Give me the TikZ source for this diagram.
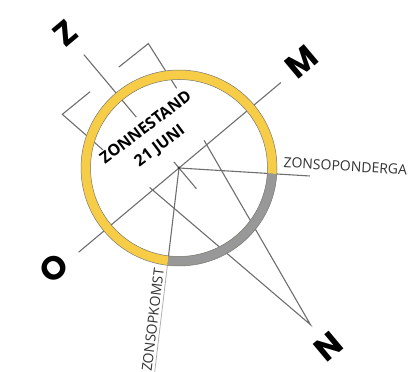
\documentclass[tikz,border=0pt]{standalone}
\usepackage{fontspec}
\setmainfont{Open Sans}
\newfontfamily\compassfont{Poppins}
\usetikzlibrary{calc}
\definecolor{ringyellow}{RGB}{247,205,72}
\definecolor{ringgray}{RGB}{152,152,152}
\definecolor{linegray}{RGB}{110,110,110}
\definecolor{edgegray}{RGB}{120,120,110}
\begin{document}
\begin{tikzpicture}[x=1pt,y=1pt,
  guide/.style={draw=linegray, line width=1.1pt},
  faint/.style={draw=linegray!55, line width=0.8pt},
  ringpart/.style={draw=edgegray, line width=0.5pt},
  compass/.style={font=\compassfont\bfseries\fontsize{33}{33}\selectfont, rotate=40, inner sep=0pt},
  label/.style={font=\fontsize{14}{16}\selectfont, text=black!80, inner sep=0pt},
  title/.style={font=\bfseries\fontsize{16}{23}\selectfont, align=center, rotate=37, inner sep=0pt}]
\useasboundingbox (0,0) rectangle (408,372);
\clip (0,0) rectangle (408,372);
\coordinate (C) at (179,204);
% lines
\begin{scope}[shift={(C)}, rotate=40]
  \coordinate (oend) at (-131,0);
  \coordinate (mend) at (133,0);
  \coordinate (zstart) at (0,148);
  \coordinate (zstop) at (0,66.5);
  \coordinate (tickA) at (0,8);
  \coordinate (tickB) at (0,-27);
  \coordinate (tb1) at (18.8,116);
  \coordinate (tb2) at (56.5,115);
  \coordinate (tb3) at (49.4,62.5);
  \coordinate (lb1) at (-19.1,115.6);
  \coordinate (lb2) at (-54.9,116.1);
  \coordinate (lb3) at (-46.6,62.7);
  \coordinate (na) at (37,5);
  \coordinate (nb) at (-35,4);
  \coordinate (npt) at (0,-204.5);
  \node[compass] (Zl) at (0,176) {Z};
  \node[compass] (Ml) at (162,2) {M};
  \node[compass] (Ol) at (-160,3.5) {O};
  \node[compass] (Nl) at (0,-233) {N};
  \node[title] (ttl) at (0,40) {ZONNESTAND\\21 JUNI};
\end{scope}
\draw[guide] (oend) -- (mend);
\draw[guide] (zstart) -- (zstop);
\draw[guide] (tickA) -- (tickB);
\draw[guide] (tb1) -- (tb2) -- (tb3);
\draw[guide] (lb1) -- (lb2) -- (lb3);
\draw[guide] (na) -- (npt) -- (nb);
\coordinate (setend) at ($(C)+(-3.5:131)$);
\draw[guide] (C) -- (setend);
\coordinate (risering) at ($(C)+(263.2:97)$);
\coordinate (riseend) at ($(C)+(263.2:210)$);
\draw[guide] (C) -- (risering);
\draw[faint] (risering) -- (riseend);
% ring
\fill[ringyellow] ($(C)+(-3.5:98)$) arc[start angle=-3.5,end angle=263.2,radius=98]
  -- ($(C)+(263.2:88.5)$) arc[start angle=263.2,end angle=-3.5,radius=88.5] -- cycle;
\fill[ringgray] ($(C)+(263.2:98)$) arc[start angle=263.2,end angle=356.5,radius=98]
  -- ($(C)+(356.5:88.5)$) arc[start angle=356.5,end angle=263.2,radius=88.5] -- cycle;
\draw[ringpart] (C) circle[radius=98];
\draw[ringpart] (C) circle[radius=88.5];
\fill[black!80] (C) circle[radius=1.5];
% labels
\node[label, rotate=-3.5, anchor=base west] (setlbl) at ($(C)+(-3.5:104)+(86.5:7)$) {ZONSOPONDERGANG};
\node[label, rotate=83.2, anchor=base east] (riselbl) at ($(C)+(263.2:102)+(173.2:3)$) {ZONSOPKOMST};
\end{tikzpicture}
\end{document}
